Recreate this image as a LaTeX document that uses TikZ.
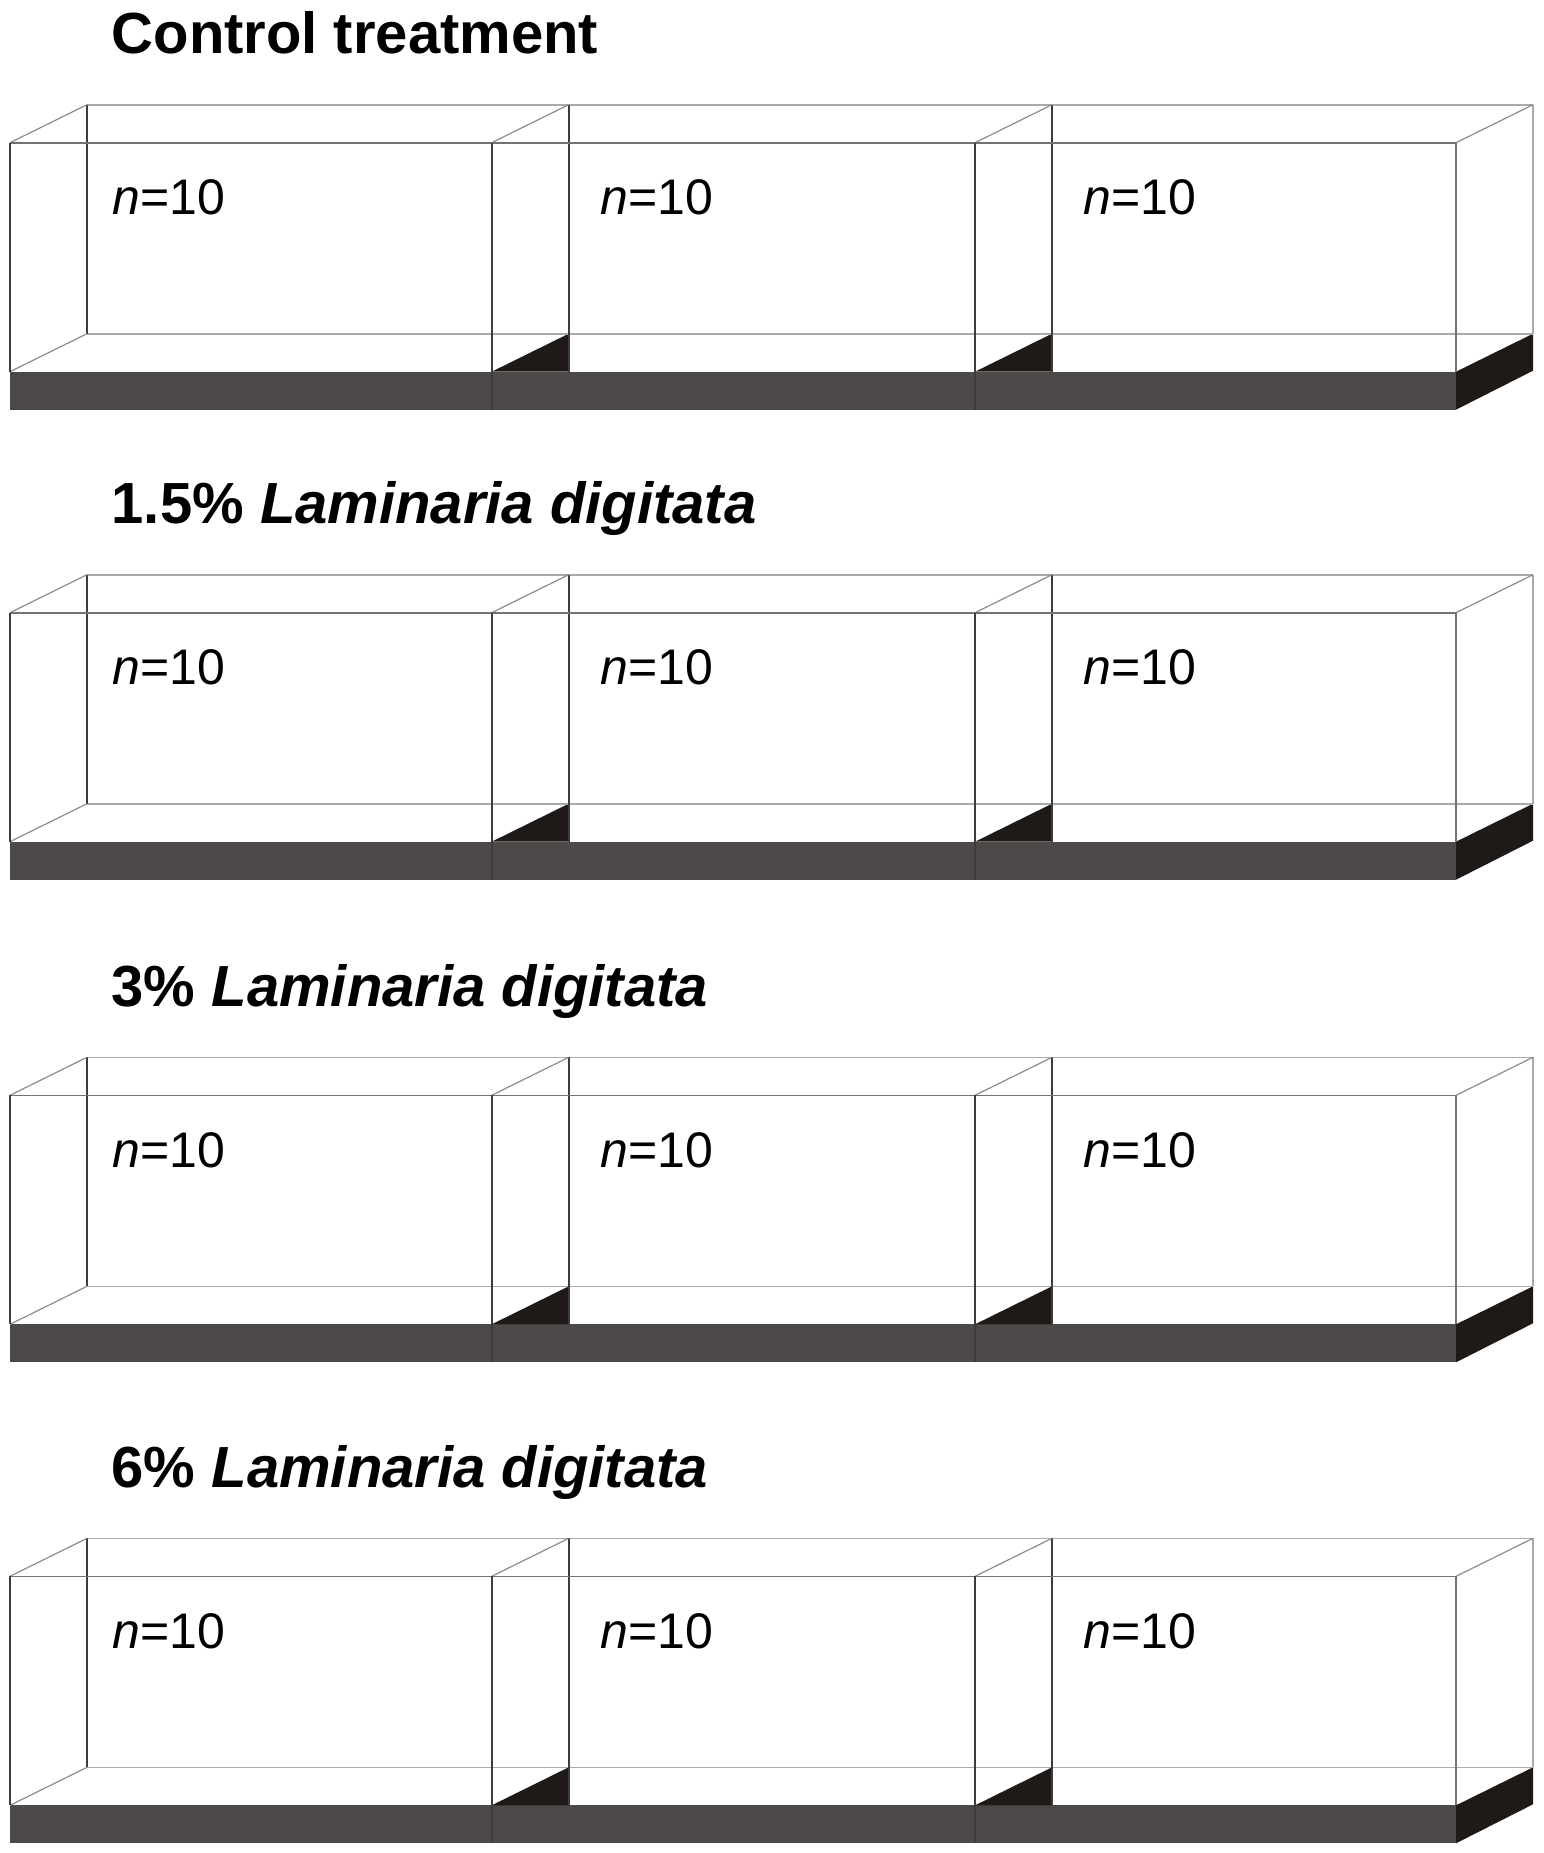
\documentclass[tikz,border=0pt]{standalone}
\usepackage{fontspec}
\setmainfont{Liberation Sans}
\definecolor{basecol}{HTML}{4D4948}
\definecolor{sidecol}{HTML}{1F1A17}
\definecolor{frontcol}{HTML}{3C3C3C}
\definecolor{backcol}{HTML}{AAAAAA}
\definecolor{diagcol}{HTML}{8C8C8C}
\tikzset{
  frontline/.style={draw=frontcol, line width=1.6pt},
  backline/.style={draw=backcol, line width=1.6pt},
  diagline/.style={draw=diagcol, line width=1.2pt},
  rowtitle/.style={anchor=base west, inner sep=0pt, font=\fontsize{58}{68}\selectfont\bfseries},
  countlbl/.style={anchor=base west, inner sep=0pt, font=\fontsize{50}{60}\selectfont},
}
\begin{document}
\begin{tikzpicture}[x=1pt,y=-1pt]
\useasboundingbox (0,0) rectangle (1543,1853);
\foreach \Y/\T/\k in {104.7/{Control treatment}/a,
                      574.7/{1.5\% \textit{Laminaria digitata}}/b,
                      1057.3/{3\% \textit{Laminaria digitata}}/c,
                      1538.3/{6\% \textit{Laminaria digitata}}/d}{
  % base
  \fill[basecol] (10,\Y+267) rectangle (1456,\Y+305);
  % dark side triangles between tanks
  \fill[sidecol] (491.7,\Y+267) -- (568.7,\Y+229) -- (568.7,\Y+267) -- cycle;
  \fill[sidecol] (975,\Y+267) -- (1052,\Y+229) -- (1052,\Y+267) -- cycle;
  % right end of the base
  \fill[sidecol] (1456,\Y+267) -- (1533,\Y+229) -- (1533,\Y+266) -- (1456,\Y+305) -- cycle;
  % back lines
  \draw[backline] (87,\Y) -- (1533,\Y);
  \draw[backline] (87,\Y+229) -- (1533,\Y+229);
  \draw[backline] (1533,\Y) -- (1533,\Y+229);
  % back verticals
  \draw[frontline] (87,\Y) -- (87,\Y+229);
  \draw[frontline] (568.7,\Y) -- (568.7,\Y+267);
  \draw[frontline] (1052,\Y) -- (1052,\Y+267);
  % diagonals
  \draw[diagline] (10,\Y+38) -- (87,\Y);
  \draw[diagline] (491.7,\Y+38) -- (568.7,\Y);
  \draw[diagline] (975,\Y+38) -- (1052,\Y);
  \draw[diagline] (1456,\Y+38) -- (1533,\Y);
  \draw[diagline] (10,\Y+267) -- (87,\Y+229);
  % front lines
  \draw[draw=black!55, line width=1.6pt] (10,\Y+38) -- (1456,\Y+38);
  \draw[frontline] (10,\Y+38) -- (10,\Y+267);
  \draw[frontline] (491.7,\Y+38) -- (491.7,\Y+305);
  \draw[frontline] (975,\Y+38) -- (975,\Y+305);
  \draw[draw=black!55, line width=1.4pt] (1456,\Y+38) -- (1456,\Y+267);
  % texts
  \node[rowtitle] (title\k) at (111.5,\Y-51) {\T};
  \node[countlbl] (n\k1) at (112,\Y+110) {\textit{n}=10};
  \node[countlbl] (n\k2) at (600,\Y+110) {\textit{n}=10};
  \node[countlbl] (n\k3) at (1083,\Y+110) {\textit{n}=10};
}
\end{tikzpicture}
\end{document}
